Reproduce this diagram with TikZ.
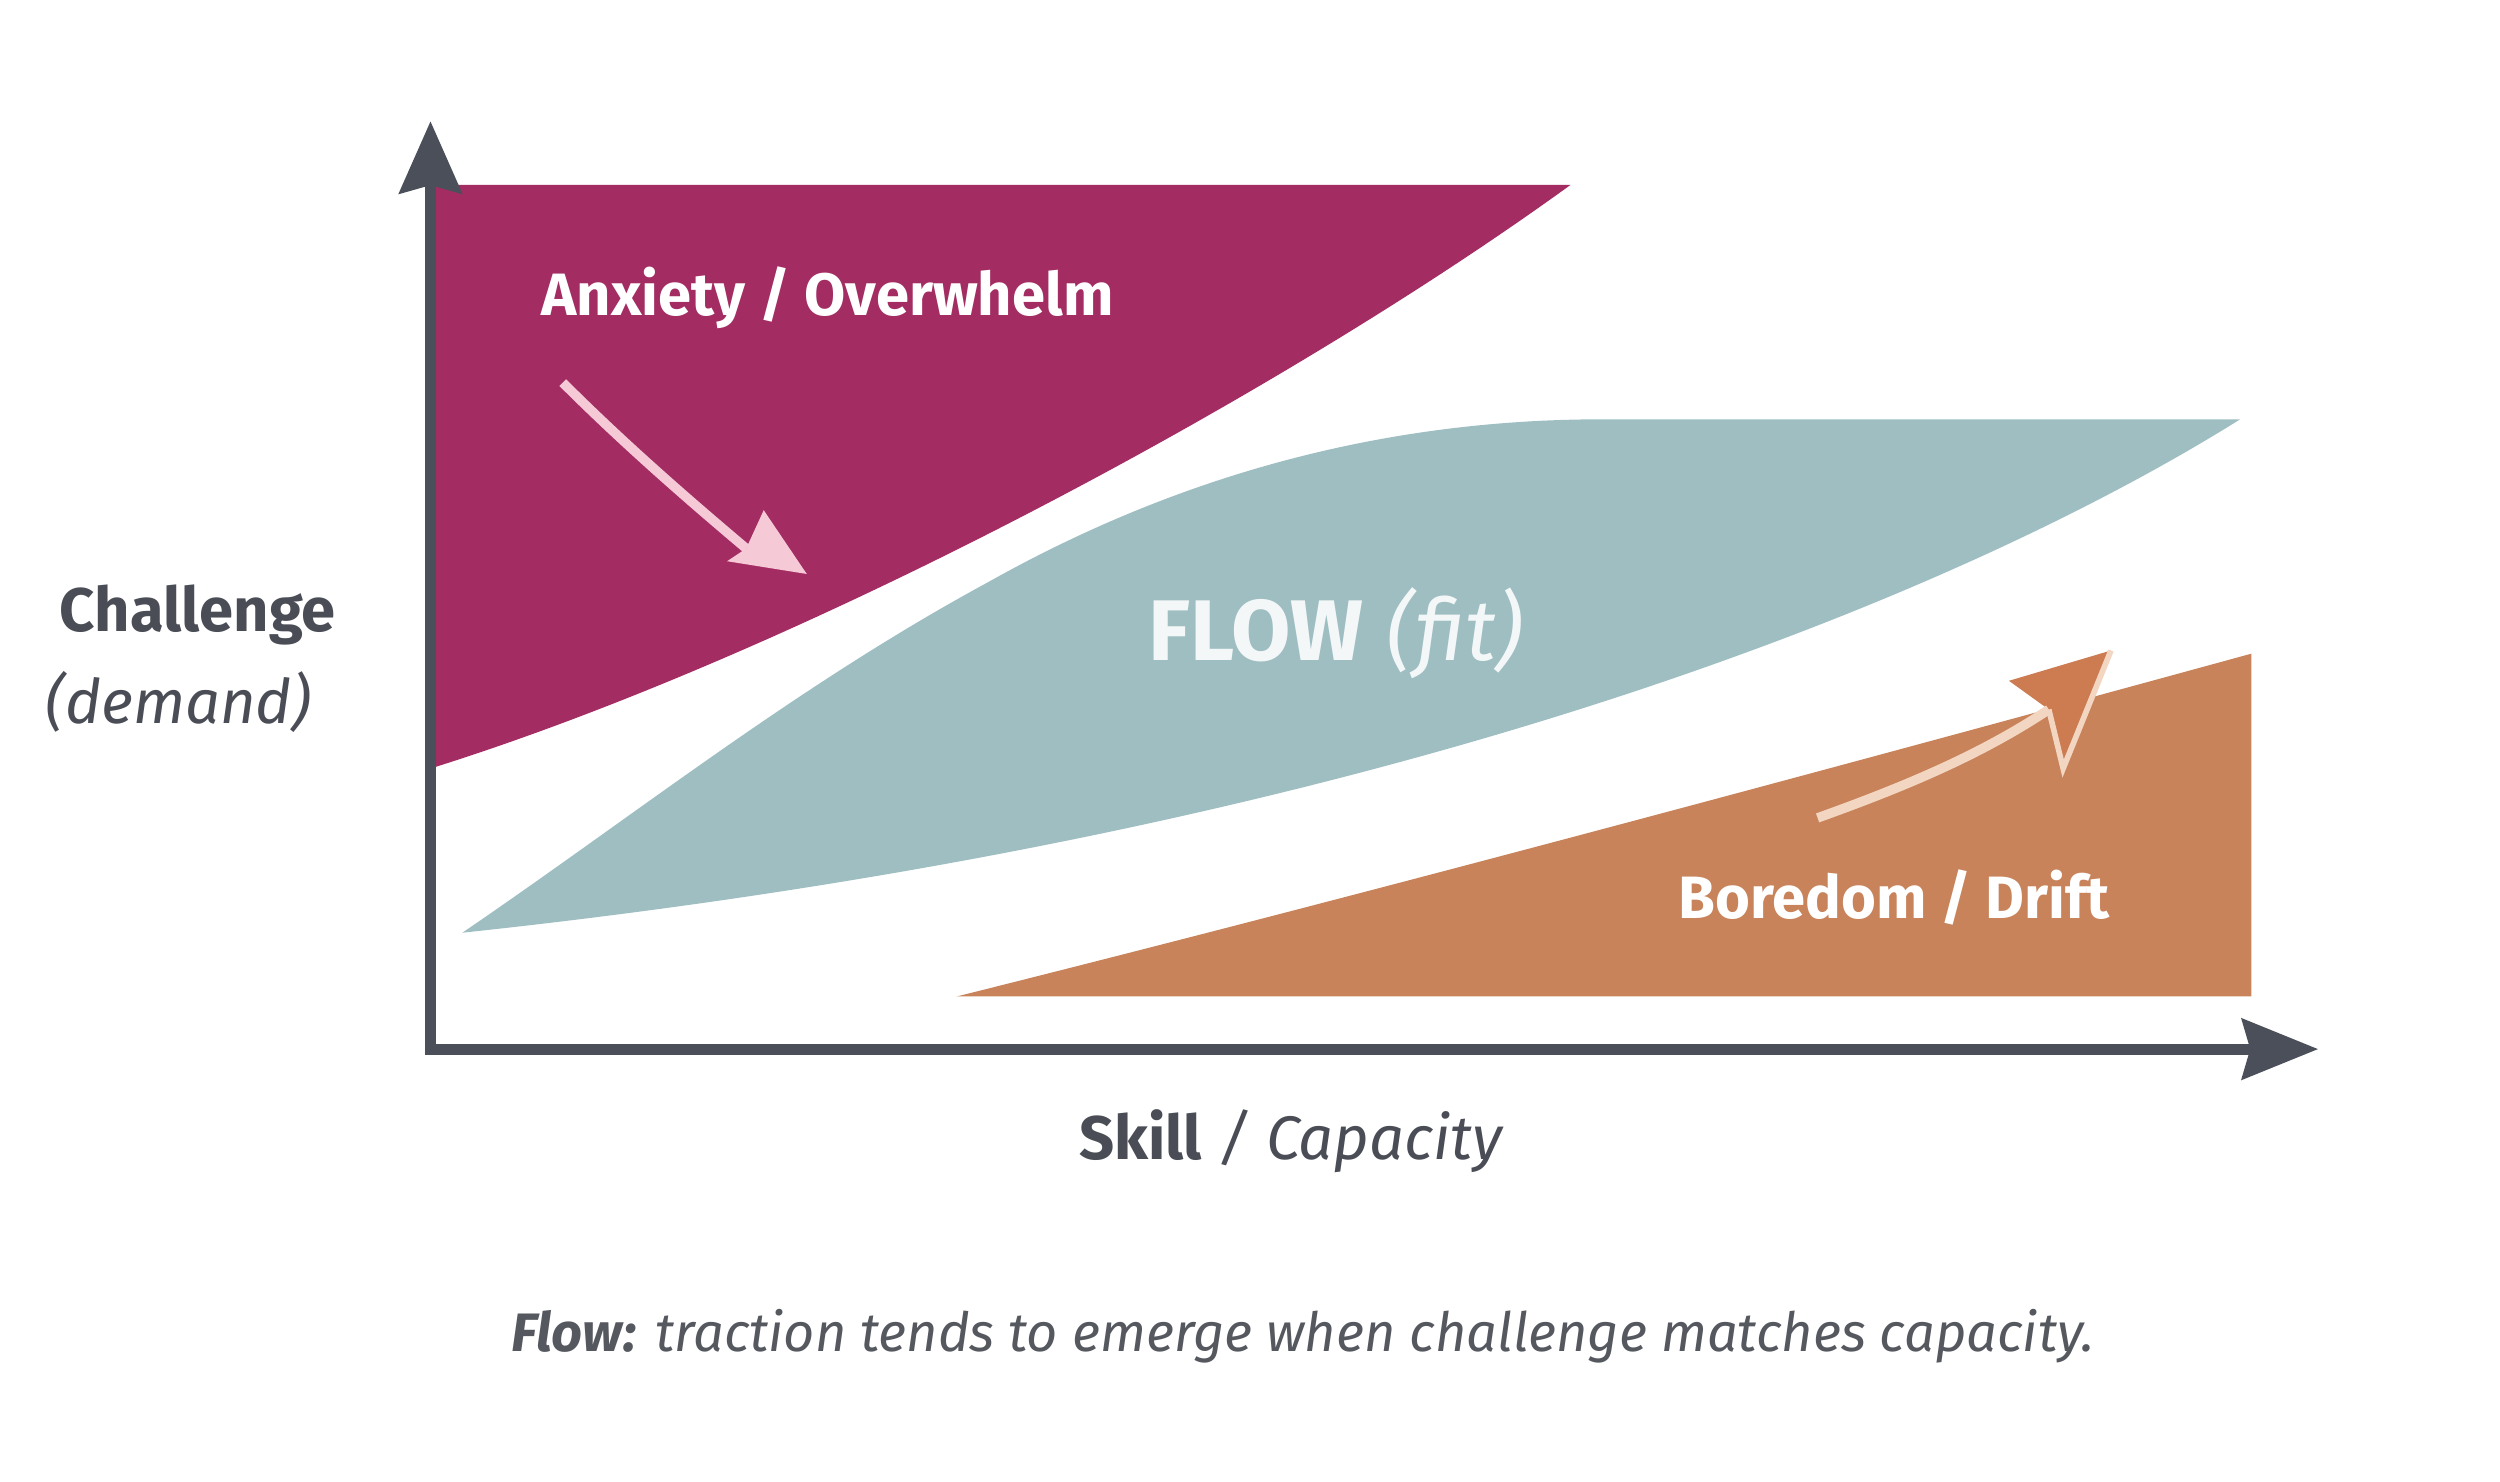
\documentclass[tikz,border=0pt]{standalone}
\usepackage{fontspec}
\setmainfont{Fira Sans}
\usetikzlibrary{arrows.meta}
\definecolor{axisc}{HTML}{4B4F5A}
\definecolor{anx}{HTML}{A32D62}
\definecolor{flowc}{HTML}{9EBEC2}
\definecolor{bor}{HTML}{C8835A}
\definecolor{borhead}{HTML}{CD7B50}
\definecolor{pinkc}{HTML}{F6C9D7}
\definecolor{peach}{HTML}{F2D6C2}
\definecolor{txt}{HTML}{4A4D55}
\definecolor{captc}{HTML}{55585E}
\definecolor{flowtxt}{HTML}{F4F7F7}
\tikzset{
  axisline/.style={draw=axisc, line width=3.1pt, line join=miter,
    {Stealth[length=0.72cm,width=0.62cm,inset=0.08cm]}-{Stealth[length=0.76cm,width=0.6cm,inset=0.08cm]}},
  zonelabel/.style={text=white, font=\bfseries\fontsize{17}{20}\selectfont, inner sep=0pt},
  axislabel/.style={text=txt, font=\fontsize{17.5}{21}\selectfont, inner sep=0pt},
  hintarrow/.style={line width=2.7pt, line cap=butt}
}
\begin{document}
\begin{tikzpicture}[x=0.015944cm,y=-0.015944cm]
\useasboundingbox[fill=white] (0,0) rectangle (1568,929);

% regions
\fill[anx] (270,116) -- (985,116) .. controls (800,250) and (500,410) .. (270,482) -- cycle;
\fill[flowc] (290,585) .. controls (400,510) and (500,430) .. (620,365)
   .. controls (750,292) and (880,263) .. (1005,263) -- (1405,263)
   .. controls (1250,360) and (900,520) .. (290,585) -- cycle;
\fill[bor] (600,625) -- (1412,625) -- (1412,410) .. controls (1200,468) and (880,555) .. (600,625) -- cycle;

% axes
\coordinate (O) at (270,658);
\coordinate (ytip) at (270,76);
\coordinate (xtip) at (1454,658);
\draw[axisline] (ytip) -- (O) -- (xtip);

% anxiety hint arrow
\coordinate (a1) at (353,240);
\coordinate (a2) at (468,344);
\coordinate (atip) at (506,360);
\draw[hintarrow, draw=pinkc] (a1) .. controls (390,277) and (430,312) .. (a2);
\fill[pinkc] (atip) -- (479,320) -- (a2) -- (456,352) -- cycle;

% boredom hint arrow
\coordinate (b1) at (1140,513);
\coordinate (b2) at (1285,445);
\coordinate (btip) at (1324,408);
\fill[borhead] (btip) -- (1260,427) -- (b2) -- (1294,482) -- cycle;
\draw[hintarrow, draw=peach] (b1) .. controls (1190,495) and (1240,475) .. (b2);
\draw[line width=1.6pt, draw=peach, line join=miter] (b2) -- (1294,482) -- (btip);

% labels
\node[zonelabel] (anxl) at (519,187) {Anxiety / Overwhelm};
\node[text=flowtxt, inner sep=0pt, font=\fontsize{24.5}{28}\selectfont] (flowl) at (838,397) {\textbf{FLOW} \textit{(fit)}};
\node[zonelabel] (borl) at (1188,563) {Boredom / Drift};
\node[axislabel, font=\bfseries\fontsize{17.5}{21}\selectfont] (chal) at (124,386) {Challenge};
\node[axislabel, font=\itshape\fontsize{17.5}{21}\selectfont] (dem) at (112,440) {(demand)};
\node[axislabel] (skill) at (810,716) {\textbf{Skill} \textit{/ Capacity}};
\node[text=captc, inner sep=0pt, font=\itshape\fontsize{15.4}{18}\selectfont] (capt) at (817,838) {\textbf{Flow:} traction tends to emerge when challenge matches capacity.};
\end{tikzpicture}
\end{document}
